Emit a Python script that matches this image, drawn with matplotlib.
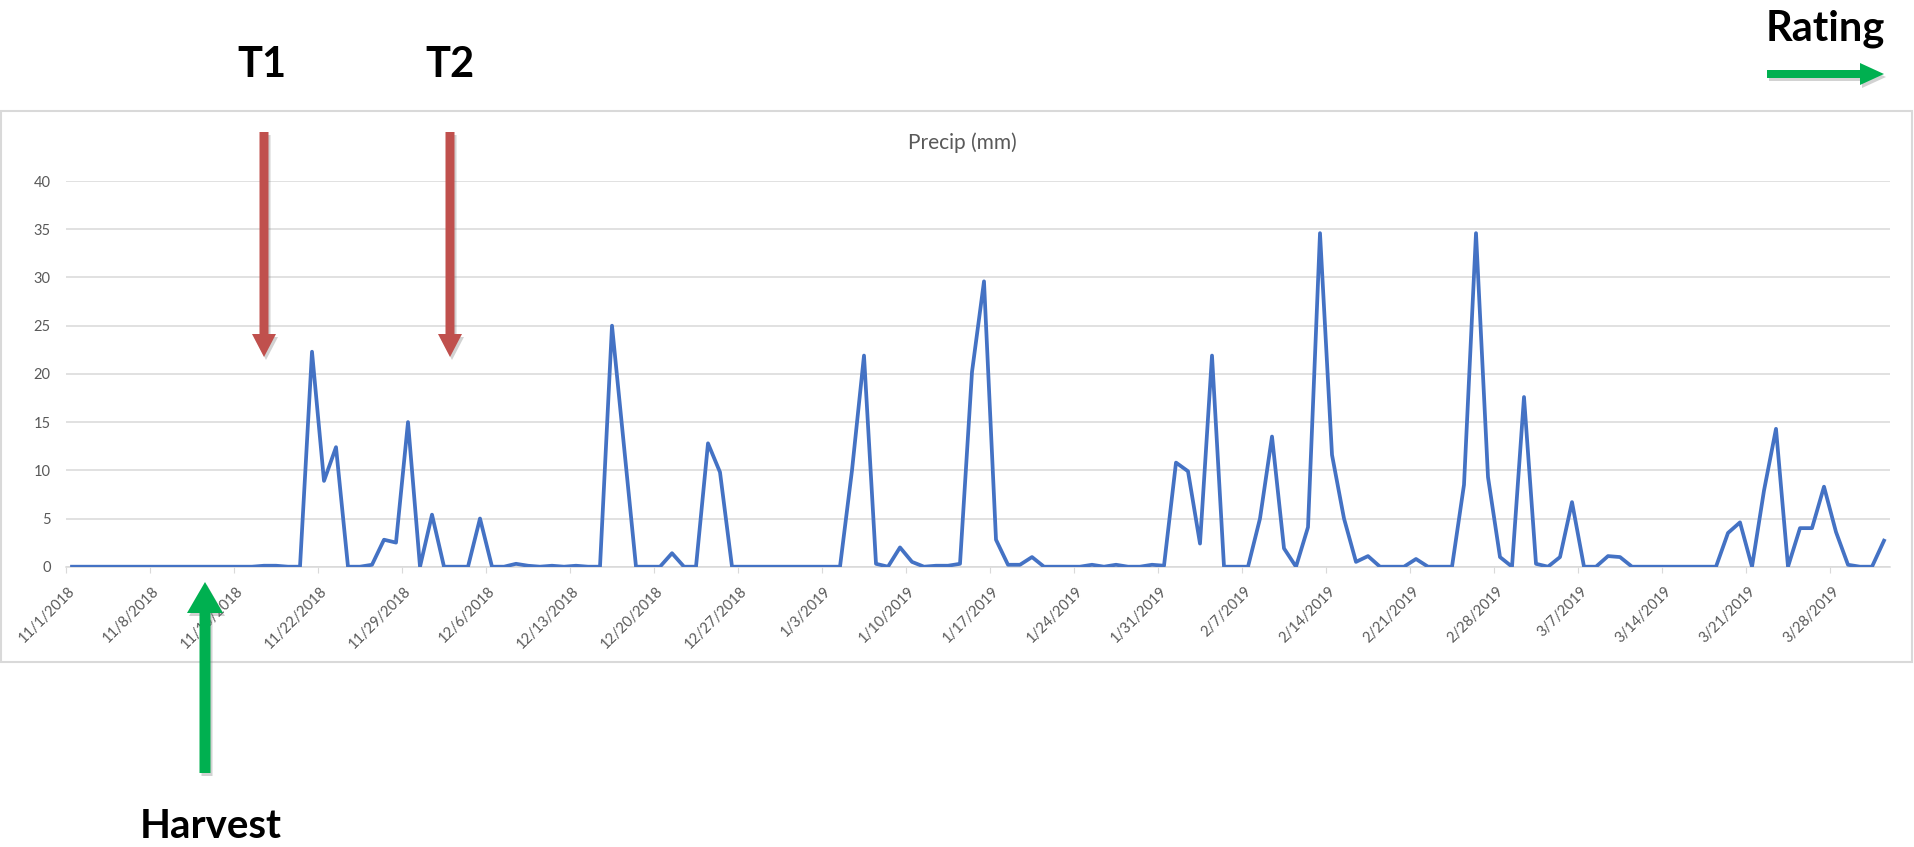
import matplotlib
matplotlib.use("Agg")
import matplotlib.pyplot as plt
import matplotlib.transforms as mtransforms
from matplotlib.patches import FancyArrow, Rectangle
import numpy as np
import pandas as pd

# daily precipitation, 11/1/2018 .. 4/1/2019 (mm)
start_date = "2018-11-01"
precip = [
    0, 0, 0, 0, 0, 0, 0, 0, 0, 0, 0, 0, 0, 0, 0, 0,
    0.1, 0.1, 0, 0, 22.3, 8.9, 12.4, 0, 0, 0.2, 2.8, 2.5, 15.0, 0,
    5.4, 0, 0, 0, 5.0, 0, 0, 0.3, 0.1, 0, 0.1, 0, 0.1, 0, 0,
    25.0, 12.5, 0, 0, 0, 1.4, 0, 0, 12.8, 9.8,
    0, 0, 0, 0, 0, 0, 0, 0, 0, 0,
    10.0, 21.9, 0.3, 0, 2.0, 0.5, 0, 0.1, 0.1, 0.3, 20.2, 29.6, 2.8,
    0.2, 0.2, 1.0, 0, 0, 0, 0, 0.2, 0, 0.2, 0, 0, 0.2, 0.1,
    10.8, 9.9, 2.4, 21.9, 0, 0, 0, 5.0, 13.5, 1.9, 0, 4.1,
    34.6, 11.6, 5.0, 0.5, 1.1, 0, 0, 0, 0.8, 0, 0, 0,
    8.5, 34.6, 9.3, 1.0, 0, 17.6, 0.3, 0, 1.0, 6.7, 0, 0, 1.1, 1.0,
    0, 0, 0, 0, 0, 0, 0, 0,
    3.5, 4.6, 0, 7.9, 14.3, 0, 4.0, 4.0, 8.3, 3.6, 0.2, 0, 0, 2.7,
]
y_ticks = [0, 5, 10, 15, 20, 25, 30, 35, 40]
tick_every = 7
chart_title = "Precip (mm)"
labels_top = ["T1", "T2"]

dates = pd.date_range(start_date, periods=len(precip), freq="D")
idx = np.arange(len(precip))
tick_idx = idx[::tick_every]
tick_labels = [f"{d.month}/{d.day}/{d.year}" for d in dates[::tick_every]]

plt.rcParams['font.family'] = ['Lato', 'DejaVu Sans']

W, H = 1915, 847
fig = plt.figure(figsize=(W / 100, H / 100), dpi=100)
fig.patch.set_facecolor('white')

# plot area (pixel box of the reference)
left, right, top, bottom = 66, 1890, 181.1, 566.7
ax = fig.add_axes([left / W, 1 - bottom / H, (right - left) / W, (bottom - top) / H])
ax.plot(idx, precip, color='#4472C4', lw=2.7, solid_joinstyle='round', zorder=3)
ax.set_xlim(-0.5, len(precip) - 0.5)
ax.set_ylim(0, 40)
ax.set_yticks(y_ticks)
ax.set_xticks(tick_idx - 0.5)
ax.set_xticklabels(tick_labels, rotation=45, ha='right', va='center',
                   rotation_mode='anchor', fontsize=10.5, color='#595959')
ax.tick_params(axis='x', length=4, color='#d9d9d9', pad=12)
ax.tick_params(axis='y', length=0, pad=11, labelsize=10.5, labelcolor='#595959')
ax.grid(axis='y', color='#d9d9d9', lw=1.1)
ax.set_axisbelow(True)
for s in ['top', 'right', 'left']:
    ax.spines[s].set_visible(False)
ax.spines['bottom'].set_color('#d9d9d9')
ax.spines['bottom'].set_linewidth(1.1)
shift = mtransforms.ScaledTranslation(7 / 100, 0, fig.dpi_scale_trans)
for lab in ax.get_xticklabels():
    lab.set_transform(lab.get_transform() + shift)

fig.text(962 / W, 1 - 143 / H, chart_title, ha='center', va='center',
         fontsize=15, color='#595959')

# overlay in pixel units for the frame, arrows and labels
ov = fig.add_axes([0, 0, 1, 1], zorder=5)
ov.set_xlim(0, W)
ov.set_ylim(H, 0)
ov.axis('off')
ov.patch.set_alpha(0)

ov.add_patch(Rectangle((1, 111), W - 4, 551, fill=False, edgecolor='#d9d9d9', lw=1.5))


def arrow(x, y, dx, dy, w, hw, hl, color):
    shadow = FancyArrow(x + 2, y + 3, dx, dy, width=w, head_width=hw, head_length=hl,
                        length_includes_head=True, color='#7f7f7f', alpha=0.35, lw=0)
    ov.add_patch(shadow)
    ov.add_patch(FancyArrow(x, y, dx, dy, width=w, head_width=hw, head_length=hl,
                            length_includes_head=True, color=color, lw=0))


red = '#C0504D'
green = '#00B050'
arrow(264, 132, 0, 225, 9, 24, 23, red)
arrow(450, 132, 0, 225, 9, 24, 23, red)
arrow(205, 773, 0, -191, 11, 36, 31, green)
arrow(1767, 74, 117, 0, 8, 22, 24, green)

ov.text(262, 77, labels_top[0], ha='center', va='baseline', fontsize=30, fontweight='bold')
ov.text(450, 77, labels_top[1], ha='center', va='baseline', fontsize=30, fontweight='bold')
ov.text(1825, 40, "Rating", ha='center', va='baseline', fontsize=30, fontweight='bold')
ov.text(211, 838, "Harvest", ha='center', va='baseline', fontsize=29, fontweight='bold')

fig.savefig('out.png', dpi=100)
